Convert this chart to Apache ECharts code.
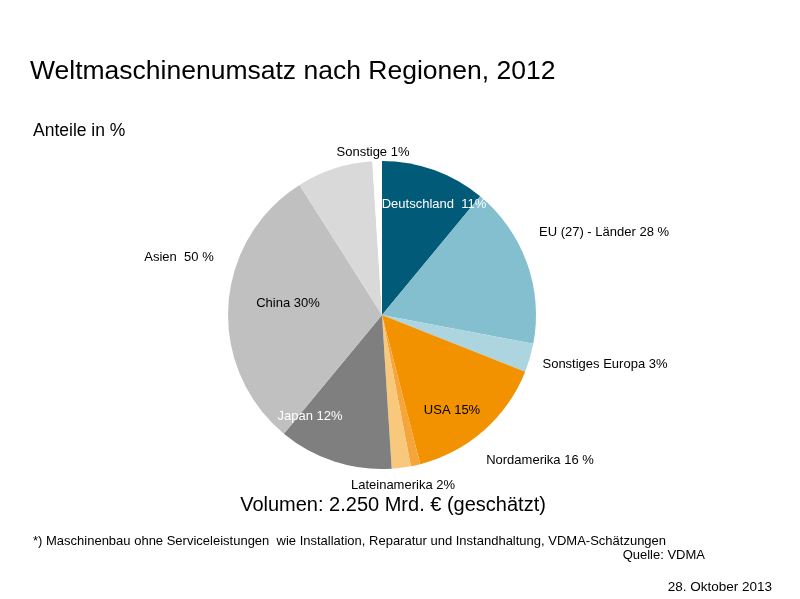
<!DOCTYPE html>
<html>
<head>
<meta charset="utf-8">
<script src="https://cdn.jsdelivr.net/npm/echarts@6/dist/echarts.min.js"></script>
<style>
  html, body { margin: 0; padding: 0; background: #fff; }
  #chart { width: 800px; height: 599px; }
</style>
</head>
<body>
<div id="chart"></div>
<script>
// Anteile in %, im Uhrzeigersinn ab 12 Uhr
const slices = ['Deutschland', 'EU (27) übrige', 'Sonstiges Europa', 'USA', 'Nordamerika übrige',
  'Lateinamerika', 'Japan', 'China', 'Asien übrige', 'Sonstige']
const shares = [11, 17, 3, 15, 1, 2, 12, 30, 8, 1]
const sliceLabels = ['Deutschland  11%', 'EU (27) - Länder 28 %', 'Sonstiges Europa 3%', 'USA 15%',
  'Nordamerika 16 %', 'Lateinamerika 2%', 'Japan 12%', 'China 30%', 'Asien  50 %', 'Sonstige 1%']

const colors = ['#005a78', '#84bfd0', '#acd5e0', '#f39200', '#f5a53a', '#f8c87c',
  '#7f7f7f', '#c0c0c0', '#d9d9d9', '#ffffff']
const labelColors = ['#fff', '#000', '#000', '#000', '#000', '#000', '#fff', '#000', '#000', '#000']
// label centres (px)
const labelPos = [[434, 204], [604, 232], [605, 364], [452, 410], [540, 460],
  [403, 485], [310, 416], [288, 303], [179, 257], [373, 152]]

const chart = echarts.init(document.getElementById('chart'))
const font = 'Liberation Sans, Arial, sans-serif'

chart.setOption({
  animation: false,
  backgroundColor: '#fff',
  title: {
    text: 'Weltmaschinenumsatz nach Regionen, 2012',
    left: 25,
    top: 53,
    textStyle: { fontFamily: font, fontSize: 26.5, fontWeight: 'normal', color: '#000' }
  },
  series: [{
    type: 'pie',
    center: [382, 315],
    radius: 154,
    startAngle: 90,
    clockwise: true,
    avoidLabelOverlap: false,
    labelLine: { show: false },
    data: slices.map((name, i) => ({
      name: name,
      value: shares[i],
      itemStyle: { color: colors[i] },
      label: { formatter: sliceLabels[i], color: labelColors[i] }
    })),
    label: {
      show: true,
      position: 'outside',
      fontFamily: font,
      fontSize: 13
    },
    labelLayout: function (params) {
      const p = labelPos[params.dataIndex]
      return { x: p[0], y: p[1], align: 'center', verticalAlign: 'middle' }
    }
  }],
  graphic: [
    {
      type: 'text', x: 33, y: 131,
      style: { text: 'Anteile in %', font: '17.5px ' + font, fill: '#000', verticalAlign: 'middle' }
    },
    {
      type: 'text', x: 393, y: 505,
      style: { text: 'Volumen: 2.250 Mrd. € (geschätzt)', font: '20px ' + font, fill: '#000',
        align: 'center', verticalAlign: 'middle' }
    },
    {
      type: 'text', x: 33, y: 541,
      style: { text: '*) Maschinenbau ohne Serviceleistungen  wie Installation, Reparatur und Instandhaltung, VDMA-Schätzungen',
        font: '13px ' + font, fill: '#000', verticalAlign: 'middle' }
    },
    {
      type: 'text', x: 705, y: 555,
      style: { text: 'Quelle: VDMA', font: '13px ' + font, fill: '#000', align: 'right', verticalAlign: 'middle' }
    },
    {
      type: 'text', x: 772, y: 587,
      style: { text: '28. Oktober 2013', font: '13.5px ' + font, fill: '#000', align: 'right', verticalAlign: 'middle' }
    }
  ]
})
</script>
</body>
</html>
